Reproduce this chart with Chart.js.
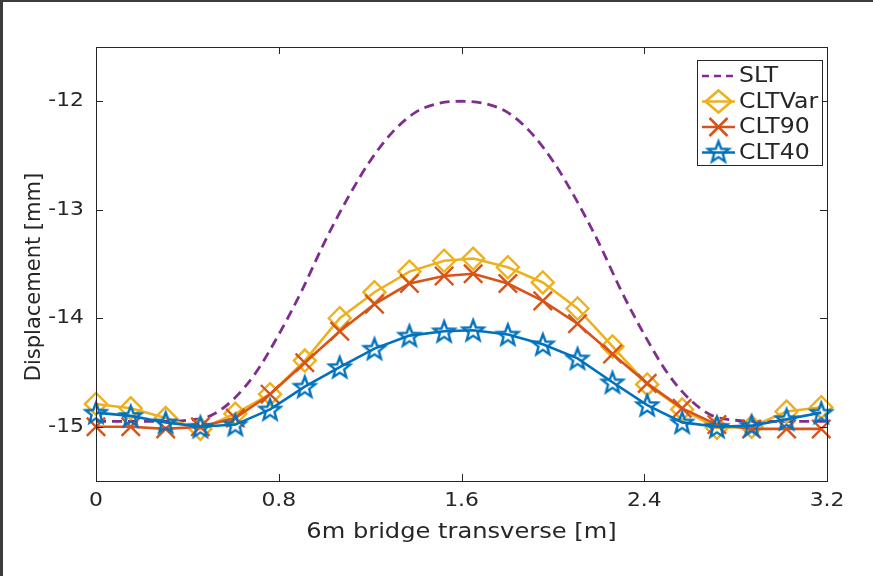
<!DOCTYPE html>
<html>
<head>
<meta charset="utf-8">
<script src="https://cdn.jsdelivr.net/npm/chart.js@4.4.0/dist/chart.umd.min.js"></script>
<style>
  html, body { margin: 0; padding: 0; background: #fff; }
  canvas { display: block; }
</style>
</head>
<body>
<canvas id="chart" width="873" height="576"></canvas>
<script>
// marker positions across the deck [m]
const xPos = [0, 0.152, 0.305, 0.457, 0.610, 0.762, 0.914, 1.067, 1.219, 1.372, 1.524,
              1.651, 1.803, 1.956, 2.108, 2.261, 2.413, 2.566, 2.718, 2.870, 3.023, 3.175];
const cltVar = [-14.79, -14.83, -14.92, -15.02, -14.88, -14.70, -14.39, -14.00, -13.76, -13.57, -13.47,
                -13.45, -13.53, -13.67, -13.91, -14.26, -14.61, -14.84, -15.01, -15.00, -14.86, -14.82];
const clt90 = [-15.00, -15.00, -15.02, -15.00, -14.92, -14.70, -14.41, -14.12, -13.87, -13.68, -13.61,
               -13.59, -13.68, -13.84, -14.05, -14.33, -14.60, -14.83, -14.98, -15.02, -15.02, -15.02];
const clt40 = [-14.87, -14.90, -14.96, -15.00, -14.98, -14.84, -14.63, -14.45, -14.28, -14.16, -14.12,
               -14.11, -14.15, -14.24, -14.37, -14.59, -14.80, -14.96, -15.00, -14.99, -14.93, -14.87];

// SLT curve
const sltX = [0, 0.1, 0.2, 0.3, 0.4, 0.5, 0.6, 0.7, 0.8, 0.9, 1.0, 1.1, 1.2, 1.3, 1.4, 1.5, 1.6,
              1.7, 1.8, 1.9, 2.0, 2.1, 2.2, 2.3, 2.4, 2.5, 2.6, 2.7, 2.8, 2.9, 3.0, 3.1, 3.2];
const slt = [-14.95, -14.95, -14.95, -14.95, -14.94, -14.90, -14.75, -14.50, -14.15, -13.75, -13.30,
             -12.90, -12.55, -12.28, -12.10, -12.02, -12.00, -12.02, -12.10, -12.28, -12.55, -12.90,
             -13.30, -13.75, -14.15, -14.50, -14.75, -14.90, -14.94, -14.95, -14.95, -14.95, -14.95];

const xTicks = [0, 0.8, 1.6, 2.4, 3.2];
const yTicks = [-15, -14, -13, -12];
const xTitle = '6m bridge transverse [m]';
const yTitle = 'Displacement [mm]';
const names = ['SLT', 'CLTVar', 'CLT90', 'CLT40'];

const C_SLT = '#7E2F8E', C_VAR = '#EDB120', C_90 = '#D95319', C_40 = '#0072BD';
const AXIS = '#262626';
const FONT = 'DejaVu Sans';
const STRETCH = 1.15; // text in the original is a bit wider than it is tall

// pentagram marker
function makeStar(color) {
  const R = 11, r = 4.6, lw = 2.4;
  const c = document.createElement('canvas');
  const s = 30;
  c.width = c.height = s;
  const g = c.getContext('2d');
  g.strokeStyle = color;
  g.lineWidth = lw;
  g.lineJoin = 'miter';
  g.beginPath();
  for (let i = 0; i < 10; i++) {
    const a = -Math.PI / 2 + i * Math.PI / 5;
    const rr = i % 2 ? r : R;
    const px = s / 2 + rr * Math.cos(a), py = s / 2 + 1 + rr * Math.sin(a);
    if (i) g.lineTo(px, py); else g.moveTo(px, py);
  }
  g.closePath();
  g.stroke();
  return c;
}
const starImg = makeStar(C_40);

const pts = (xs, ys) => xs.map((x, i) => ({ x: x, y: ys[i] }));

function wideText(ctx, text, x, y, align) {
  ctx.save();
  ctx.translate(x, y);
  ctx.scale(STRETCH, 1);
  ctx.textAlign = align;
  ctx.fillText(text, 0, 0);
  ctx.restore();
}

// box, inward ticks, labels, outer frame
const axesBox = {
  id: 'axesBox',
  afterDatasetsDraw(chart) {
    const { ctx, chartArea: a, scales } = chart;
    ctx.save();
    ctx.strokeStyle = AXIS;
    ctx.lineWidth = 1;
    ctx.strokeRect(a.left + 0.5, a.top + 0.5, a.right - a.left, a.bottom - a.top);
    ctx.beginPath();
    xTicks.forEach(v => {
      const px = Math.round(scales.x.getPixelForValue(v)) + 0.5;
      ctx.moveTo(px, a.bottom); ctx.lineTo(px, a.bottom - 7);
      ctx.moveTo(px, a.top); ctx.lineTo(px, a.top + 7);
    });
    yTicks.forEach(v => {
      const py = Math.round(scales.y.getPixelForValue(v)) + 0.5;
      ctx.moveTo(a.left, py); ctx.lineTo(a.left + 7, py);
      ctx.moveTo(a.right, py); ctx.lineTo(a.right - 7, py);
    });
    ctx.stroke();

    ctx.fillStyle = AXIS;
    ctx.textBaseline = 'middle';
    ctx.font = '19px "' + FONT + '"';
    xTicks.forEach(v => {
      wideText(ctx, String(v), scales.x.getPixelForValue(v), a.bottom + 20, 'center');
    });
    yTicks.forEach(v => {
      wideText(ctx, String(v), a.left - 12, scales.y.getPixelForValue(v), 'right');
    });
    ctx.font = '21px "' + FONT + '"';
    wideText(ctx, xTitle, (a.left + a.right) / 2, a.bottom + 52, 'center');
    ctx.save();
    ctx.translate(35, 277);
    ctx.rotate(-Math.PI / 2);
    ctx.textAlign = 'center';
    ctx.fillText(yTitle, 0, 0);
    ctx.restore();
    ctx.restore();
  },
  afterDraw(chart) {
    const ctx = chart.ctx;
    ctx.save();
    ctx.fillStyle = '#3c3c3c';
    ctx.fillRect(0, 0, chart.width, 2);
    ctx.fillRect(0, 0, 3, chart.height);
    ctx.restore();
  }
};

// MATLAB style legend: line with marker in the middle
const boxLegend = {
  id: 'boxLegend',
  afterDraw(chart) {
    const ctx = chart.ctx;
    const bx = 697, by = 60, bw = 125, bh = 105;
    ctx.save();
    ctx.fillStyle = '#fff';
    ctx.fillRect(bx, by, bw, bh);
    ctx.strokeStyle = AXIS;
    ctx.lineWidth = 1;
    ctx.strokeRect(bx + 0.5, by + 0.5, bw, bh);
    const items = [
      { color: C_SLT, dash: [7, 5], mk: null },
      { color: C_VAR, dash: [], mk: 'diamond' },
      { color: C_90, dash: [], mk: 'x' },
      { color: C_40, dash: [], mk: 'star' }
    ];
    const x0 = 702, x1 = 735, xm = 718.5;
    items.forEach((it, i) => {
      const y = 76 + i * 25.5;
      ctx.strokeStyle = it.color;
      ctx.lineWidth = 2.6;
      ctx.setLineDash(it.dash);
      ctx.beginPath();
      ctx.moveTo(x0, y); ctx.lineTo(x1, y);
      ctx.stroke();
      ctx.setLineDash([]);
      if (it.mk === 'diamond') {
        ctx.beginPath();
        ctx.moveTo(xm, y - 11); ctx.lineTo(xm + 13, y); ctx.lineTo(xm, y + 11); ctx.lineTo(xm - 13, y);
        ctx.closePath();
        ctx.stroke();
      } else if (it.mk === 'x') {
        const d = 9;
        ctx.beginPath();
        ctx.moveTo(xm - d, y - d); ctx.lineTo(xm + d, y + d);
        ctx.moveTo(xm + d, y - d); ctx.lineTo(xm - d, y + d);
        ctx.stroke();
      } else if (it.mk === 'star') {
        ctx.drawImage(starImg, xm - 15, y - 16);
      }
      ctx.fillStyle = AXIS;
      ctx.font = '20.5px "' + FONT + '"';
      ctx.textBaseline = 'middle';
      wideText(ctx, names[i], 739, y + 1, 'left');
    });
    ctx.restore();
  }
};

new Chart(document.getElementById('chart'), {
  type: 'line',
  data: {
    datasets: [
      {
        label: names[3], data: pts(xPos, clt40), borderColor: C_40, borderWidth: 2.6,
        pointStyle: starImg, pointRadius: 11, pointBackgroundColor: 'rgba(0,0,0,0)',
        tension: 0, clip: false
      },
      {
        label: names[2], data: pts(xPos, clt90), borderColor: C_90, borderWidth: 2.6,
        pointStyle: 'crossRot', pointRadius: 13, pointBorderWidth: 2.4, pointBorderColor: C_90,
        pointBackgroundColor: 'rgba(0,0,0,0)', tension: 0, clip: false
      },
      {
        label: names[1], data: pts(xPos, cltVar), borderColor: C_VAR, borderWidth: 2.6,
        pointStyle: 'rectRot', pointRadius: 11, pointBorderWidth: 2.4, pointBorderColor: C_VAR,
        pointBackgroundColor: 'rgba(0,0,0,0)', tension: 0, clip: false
      },
      {
        label: names[0], data: pts(sltX, slt), borderColor: C_SLT, borderWidth: 2.8,
        borderDash: [10, 6], pointRadius: 0, cubicInterpolationMode: 'monotone', clip: false
      }
    ]
  },
  options: {
    responsive: false,
    animation: false,
    events: [],
    layout: { padding: { top: 47, right: 46, left: 0, bottom: 0 } },
    plugins: { legend: { display: false }, tooltip: { enabled: false } },
    scales: {
      x: {
        type: 'linear', min: 0, max: 3.2,
        afterBuildTicks: s => { s.ticks = xTicks.map(v => ({ value: v })); },
        afterFit: s => { s.height = 95; },
        grid: { display: false }, border: { display: false },
        ticks: { display: false }
      },
      y: {
        min: -15.5, max: -11.5,
        afterBuildTicks: s => { s.ticks = yTicks.map(v => ({ value: v })); },
        afterFit: s => { s.width = 96; },
        grid: { display: false }, border: { display: false },
        ticks: { display: false }
      }
    }
  },
  plugins: [axesBox, boxLegend]
});
</script>
</body>
</html>
